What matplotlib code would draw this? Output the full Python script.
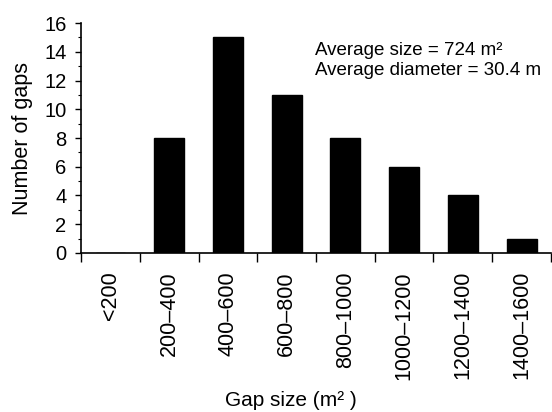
import numpy as np
import matplotlib
matplotlib.use("Agg")
import matplotlib.pyplot as plt
from matplotlib.ticker import MultipleLocator, FixedLocator

plt.rcParams['font.family'] = ['Liberation Sans', 'DejaVu Sans']

# Gap size classes (m2) and number of gaps
size_classes = ['<200', '200–400', '400–600', '600–800', '800–1000',
                '1000–1200', '1200–1400', '1400–1600']
n_gaps = [0, 8, 15, 11, 8, 6, 4, 1]

fig = plt.figure(figsize=(5.52, 4.12), dpi=100)
ax = fig.add_axes([0.147, 0.386, 0.851, 0.558])

x = np.arange(len(size_classes)) + 0.5
ax.bar(x, n_gaps, width=0.51, color='black', edgecolor='black')

ax.set_xlim(0, len(size_classes))
ax.set_ylim(0, 16)

# y axis: major every 2, minor every 1
ax.yaxis.set_major_locator(MultipleLocator(2))
ax.yaxis.set_minor_locator(MultipleLocator(1))
ax.tick_params(axis='y', which='major', length=4.5, width=1, labelsize=14.5, pad=6)
ax.tick_params(axis='y', which='minor', length=2.5, width=0.8)

# x axis: ticks on class boundaries, labels centred in the classes
ax.xaxis.set_major_locator(FixedLocator(np.arange(len(size_classes) + 1)))
ax.xaxis.set_major_formatter(plt.NullFormatter())
ax.xaxis.set_minor_locator(FixedLocator(x))
ax.set_xticklabels(size_classes, minor=True, rotation=90, fontsize=15.5)
ax.tick_params(axis='x', which='major', length=6.5, width=1)
ax.tick_params(axis='x', which='minor', length=0, pad=13)

for s in ['top', 'right']:
    ax.spines[s].set_visible(False)
ax.spines['left'].set_linewidth(1.2)
ax.spines['bottom'].set_linewidth(1.2)

ax.set_ylabel('Number of gaps', fontsize=15.5)
ax.yaxis.set_label_coords(-0.102, 0.5)
fig.text(0.527, 0.029, 'Gap size (m² )', fontsize=15, ha='center', va='center')

ax.text(3.98, 13.4, 'Average size = 724 m²\nAverage diameter = 30.4 m',
        fontsize=13.5, ha='left', va='center', linespacing=1.2)

fig.savefig('out.png', dpi=100)
